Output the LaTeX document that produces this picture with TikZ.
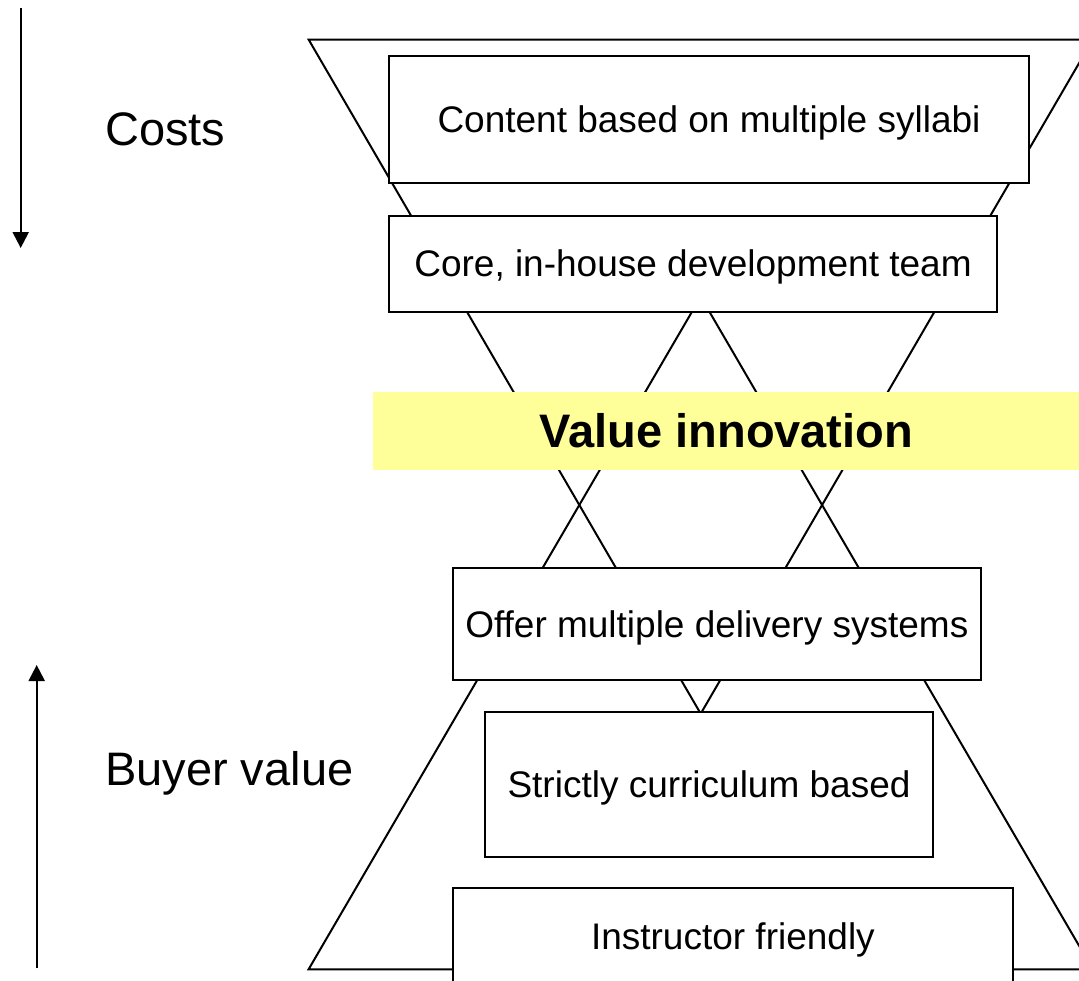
\documentclass[tikz,border=0pt]{standalone}
\usepackage{fontspec}
\setmainfont{Liberation Sans}
\usetikzlibrary{arrows.meta}
\definecolor{bandyellow}{RGB}{255,255,153}
\tikzset{
    block/.style={
        draw, fill=white, line width=2.2pt,
        inner sep=0pt, align=center,
        text height=26.5pt, text depth=0pt,
        font=\fontsize{37pt}{44pt}\selectfont
    },
    sidelabel/.style = {inner sep=0pt, anchor=base west, font=\fontsize{47pt}{56pt}\selectfont},
    line/.style = {line width=2.2pt, -{Triangle[width=16pt, length=16pt]}},
    funnel/.style = {line width=2pt, line join=miter}
}

\begin{document}
\begin{tikzpicture}[x=1pt, y=-1pt]
    \useasboundingbox (0,0) rectangle (1079,980);
    \clip (0,0) rectangle (1079,980);

    % Funnels
    \draw[funnel] (308.6,39.5) -- (1092.8,39.5) -- (700.7,713.7) -- cycle;
    \draw[funnel] (308.6,969.3) -- (1092.8,969.3) -- (700.7,296.8) -- cycle;

    % Band
    \node[fill=bandyellow, inner sep=0pt,
        minimum width=707.2pt, minimum height=78.3pt,
        text height=33.7pt, text depth=0pt,
        font=\fontsize{47pt}{56pt}\selectfont\bfseries
    ] (band) at (726.4,430.9) {Value innovation};

    % Blocks
    \node[block, minimum width=640pt, minimum height=127pt] (content) at (709,119.5) {Content based on multiple syllabi};
    \node[block, minimum width=608pt, minimum height=96pt] (core) at (693,263.7) {Core, in-house development team};
    \node[block, minimum width=528.4pt, minimum height=111.7pt] (offer) at (716.8,624.2) {Offer multiple delivery systems};
    \node[block, minimum width=448.4pt, minimum height=144.3pt] (strict) at (709,784.5) {Strictly curriculum based};
    \node[block, minimum width=560.6pt, minimum height=97pt] (instr) at (732.9,936.3) {Instructor friendly};

    % Labels
    \node[sidelabel] (costs) at (105,145) {Costs};
    \node[sidelabel] (buyer) at (105,785) {Buyer value};

    % Arrows
    \coordinate (costTop) at (20.7,8.3);
    \coordinate (costEnd) at (20.7,248);
    \coordinate (valueLow) at (36.7,968.3);
    \coordinate (valueTop) at (36.7,665);
    \draw[line] (costTop) -- (costEnd);
    \draw[line] (valueLow) -- (valueTop);

\end{tikzpicture}
\end{document}
